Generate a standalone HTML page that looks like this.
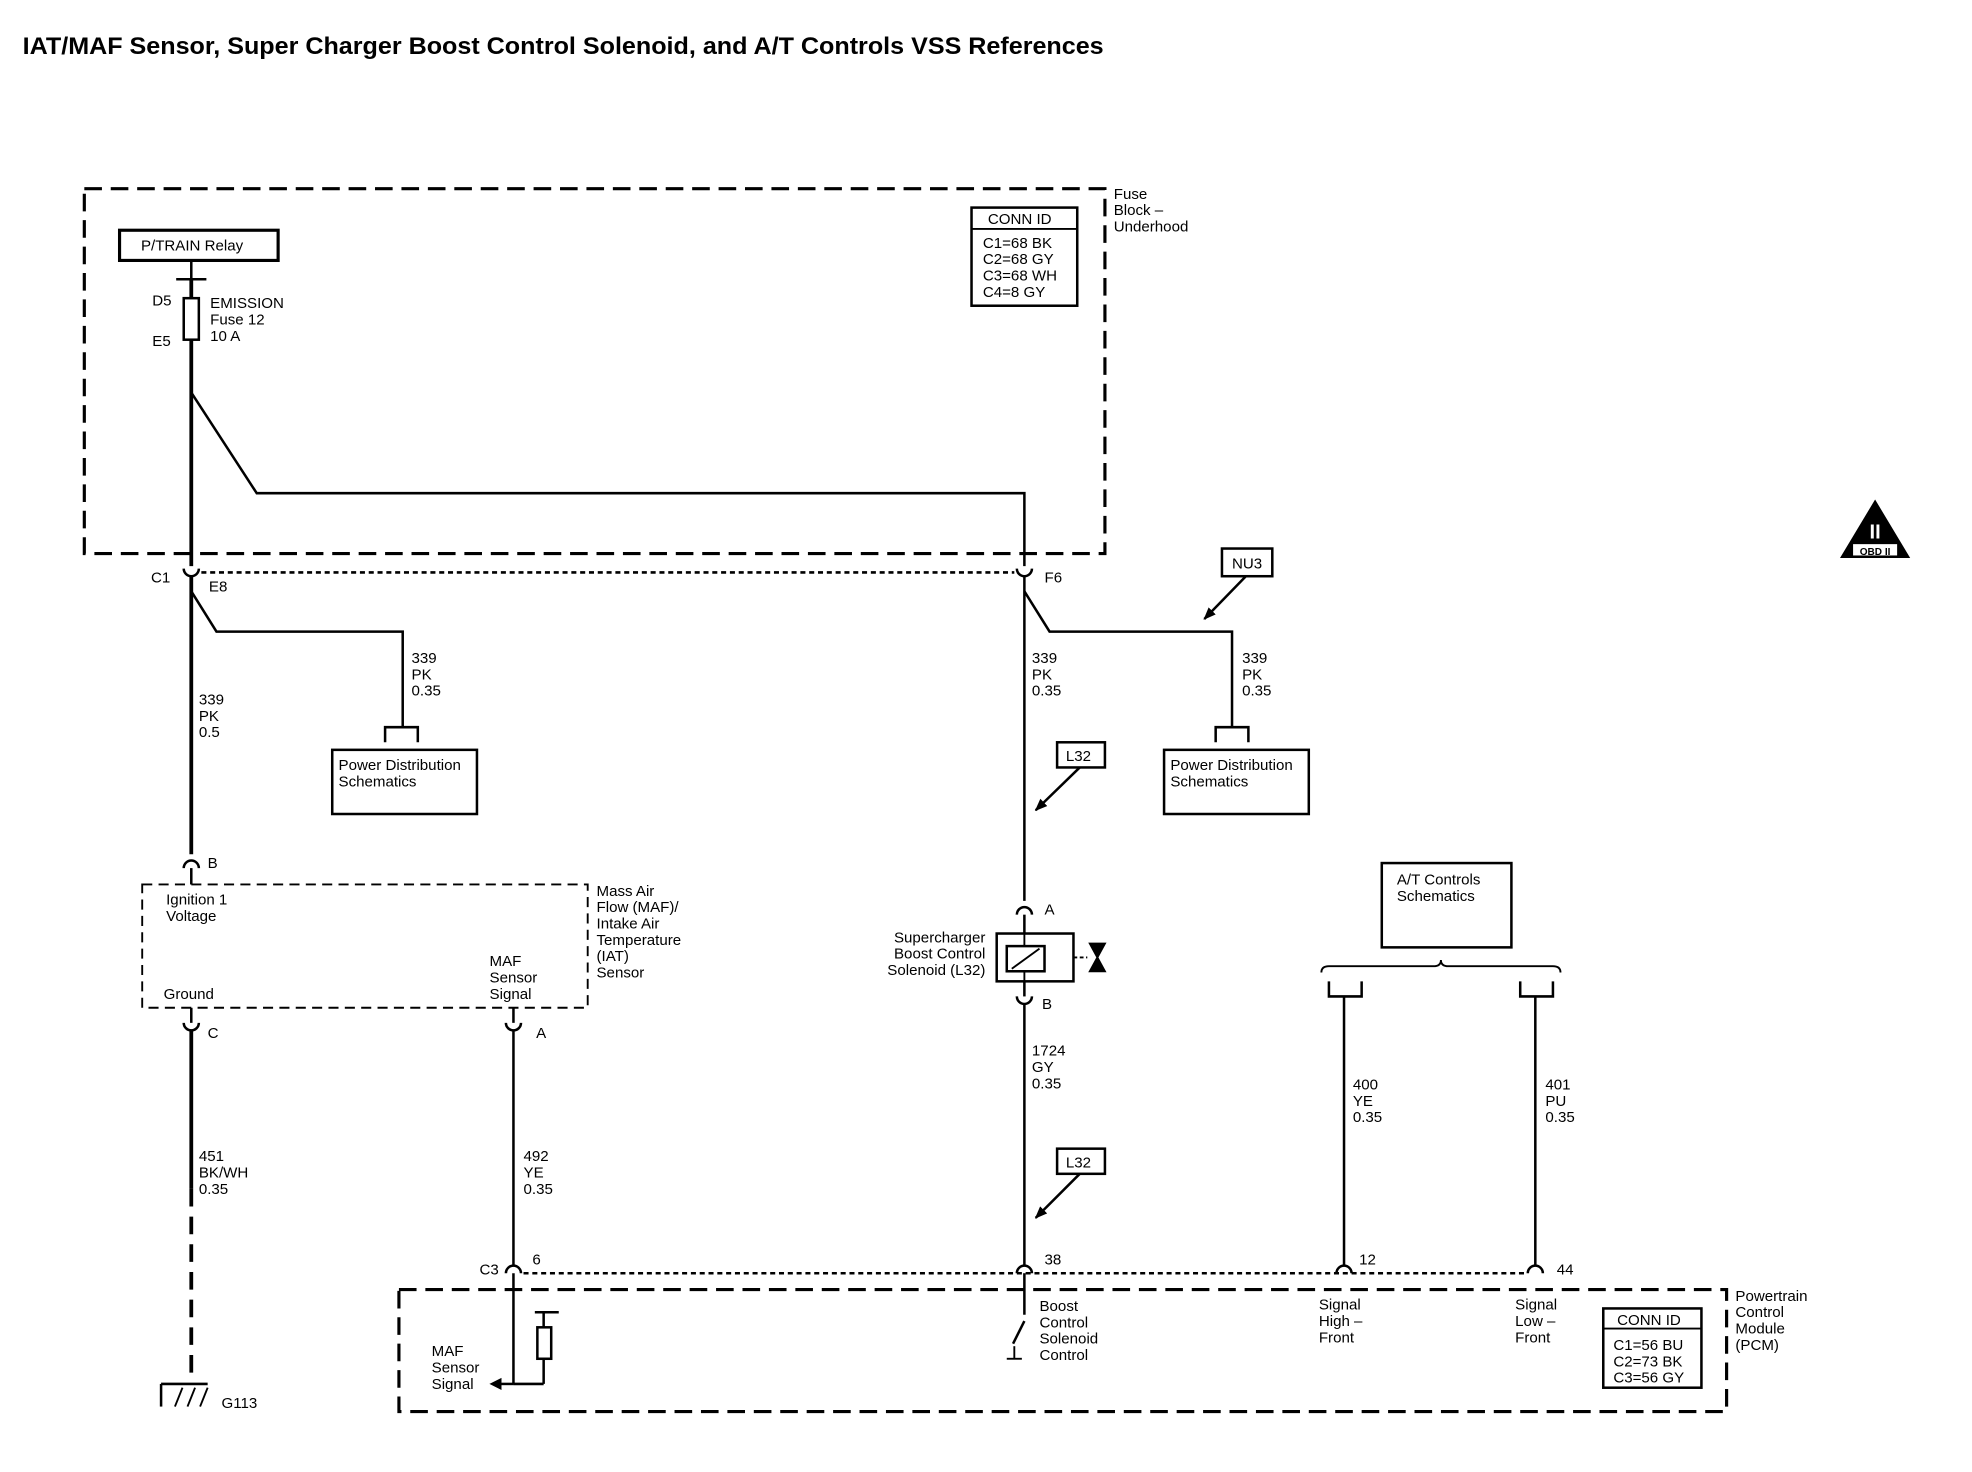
<!DOCTYPE html>
<html><head><meta charset="utf-8"><style>
html,body{margin:0;padding:0;background:#fff;}
svg{display:block;}
text{font-family:"Liberation Sans",Arial,sans-serif;font-size:12px;fill:#000;}
</style></head><body>
<svg width="1972" height="1472" viewBox="0 0 1567 1170" preserveAspectRatio="none" xmlns="http://www.w3.org/2000/svg">
<defs><marker id="ah" markerWidth="10" markerHeight="10" refX="9" refY="5" orient="auto" markerUnits="userSpaceOnUse"><path d="M0,1 L10,5 L0,9 Z" fill="#000"/></marker></defs>
<rect width="1567" height="1170" fill="#fff"/>
<text x="18" y="43" textLength="859" lengthAdjust="spacingAndGlyphs" style="font-size:19px;font-weight:bold">IAT/MAF Sensor, Super Charger Boost Control Solenoid, and A/T Controls VSS References</text>
<g fill="none" stroke="#000">
<rect x="67" y="150" width="811" height="290" stroke-width="2.5" stroke-dasharray="14,7"/>
<rect x="772" y="165" width="84" height="78" stroke-width="2"/>
<line x1="772" y1="182" x2="856" y2="182" stroke-width="1.5"/>
<rect x="95" y="183" width="126" height="24" stroke-width="2.5"/>
<line x1="152" y1="207" x2="152" y2="222" stroke-width="2"/>
<line x1="140" y1="222" x2="164" y2="222" stroke-width="2"/>
<line x1="152" y1="222" x2="152" y2="450" stroke-width="3"/>
<rect x="146" y="237" width="12" height="33" stroke-width="2" fill="#fff"/>
<polyline points="152,312 204,392 814,392 814,450" stroke-width="2"/>
<line x1="160" y1="455" x2="806" y2="455" stroke-width="2" stroke-dasharray="4,3"/>
<path d="M146,452 a6,6 0 0 0 12,0" stroke-width="2"/>
<path d="M808,452 a6,6 0 0 0 12,0" stroke-width="2"/>
<line x1="152" y1="458" x2="152" y2="679" stroke-width="3"/>
<polyline points="152,470 172,502 320,502 320,578" stroke-width="2"/>
<polyline points="306,590 306,578 332,578 332,590" stroke-width="2"/>
<rect x="264" y="596" width="115" height="51" stroke-width="2"/>
<line x1="814" y1="458" x2="814" y2="716" stroke-width="2"/>
<polyline points="814,470 834,502 979,502 979,578" stroke-width="2"/>
<polyline points="966,590 966,578 992,578 992,590" stroke-width="2"/>
<rect x="925" y="596" width="115" height="51" stroke-width="2"/>
<rect x="971" y="436" width="40" height="22" stroke-width="2"/>
<line x1="990" y1="458" x2="957" y2="492" stroke-width="2" marker-end="url(#ah)"/>
<rect x="840" y="590" width="38" height="20" stroke-width="2"/>
<line x1="858" y1="610" x2="823" y2="644" stroke-width="2" marker-end="url(#ah)"/>
<rect x="840" y="913" width="38" height="20" stroke-width="2"/>
<line x1="858" y1="933" x2="823" y2="968" stroke-width="2" marker-end="url(#ah)"/>
<path d="M146,690 a6,6 0 0 1 12,0" stroke-width="2"/>
<line x1="152" y1="690" x2="152" y2="703" stroke-width="2"/>
<rect x="113" y="703" width="354" height="98" stroke-width="1.5" stroke-dasharray="8,5"/>
<path d="M146,813 a6,6 0 0 0 12,0" stroke-width="2"/>
<line x1="152" y1="801" x2="152" y2="813" stroke-width="2"/>
<path d="M402,813 a6,6 0 0 0 12,0" stroke-width="2"/>
<line x1="408" y1="801" x2="408" y2="813" stroke-width="2"/>
<line x1="152" y1="819" x2="152" y2="945" stroke-width="3"/>
<line x1="152" y1="945" x2="152" y2="1098" stroke-width="3" stroke-dasharray="14,8"/>
<line x1="128" y1="1100" x2="165" y2="1100" stroke-width="2"/>
<line x1="128" y1="1100" x2="128" y2="1118" stroke-width="2"/>
<line x1="145" y1="1103" x2="139" y2="1118" stroke-width="1.5"/>
<line x1="155" y1="1103" x2="149" y2="1118" stroke-width="1.5"/>
<line x1="165" y1="1103" x2="159" y2="1118" stroke-width="1.5"/>
<line x1="408" y1="819" x2="408" y2="1006" stroke-width="2"/>
<path d="M808,727 a6,6 0 0 1 12,0" stroke-width="2"/>
<line x1="814" y1="727" x2="814" y2="742" stroke-width="2"/>
<rect x="792" y="742" width="61" height="38" stroke-width="2"/>
<line x1="814" y1="742" x2="814" y2="752" stroke-width="1.5"/>
<rect x="800" y="752" width="30" height="20" stroke-width="2"/>
<line x1="804" y1="770" x2="826" y2="754" stroke-width="1.5"/>
<line x1="814" y1="772" x2="814" y2="780" stroke-width="1.5"/>
<line x1="853" y1="761" x2="864" y2="761" stroke-width="1.5" stroke-dasharray="3,2"/>
<path d="M866,750 L878,750 L866,772 L878,772 Z" stroke-width="1.5" fill="#000"/>
<path d="M808,792 a6,6 0 0 0 12,0" stroke-width="2"/>
<line x1="814" y1="780" x2="814" y2="792" stroke-width="2"/>
<line x1="814" y1="798" x2="814" y2="1006" stroke-width="2"/>
<rect x="1098" y="686" width="103" height="67" stroke-width="2"/>
<path d="M1050,773 q0,-5 6,-5 L1139,768 q6,0 6,-5 q0,5 6,5 L1234,768 q6,0 6,5" stroke-width="1.5"/>
<polyline points="1056,780 1056,792 1082,792 1082,780" stroke-width="2"/>
<polyline points="1208,780 1208,792 1234,792 1234,780" stroke-width="2"/>
<line x1="1068" y1="792" x2="1068" y2="1006" stroke-width="2"/>
<line x1="1220" y1="792" x2="1220" y2="1006" stroke-width="2"/>
<line x1="416" y1="1012" x2="1212" y2="1012" stroke-width="2" stroke-dasharray="4,3"/>
<path d="M402,1012 a6,6 0 0 1 12,0" stroke-width="2"/>
<path d="M808,1012 a6,6 0 0 1 12,0" stroke-width="2"/>
<path d="M1062,1012 a6,6 0 0 1 12,0" stroke-width="2"/>
<path d="M1214,1012 a6,6 0 0 1 12,0" stroke-width="2"/>
<rect x="317" y="1025" width="1055" height="97" stroke-width="2.5" stroke-dasharray="14,7"/>
<rect x="1274" y="1040" width="78" height="63" stroke-width="2"/>
<line x1="1274" y1="1056" x2="1352" y2="1056" stroke-width="1.5"/>
<line x1="408" y1="1012" x2="408" y2="1100" stroke-width="2"/>
<line x1="408" y1="1100" x2="396" y2="1100" stroke-width="2"/>
<path d="M390,1100 l8,-4 l0,8 z" fill="#000" stroke-width="1"/>
<line x1="408" y1="1100" x2="432" y2="1100" stroke-width="2"/>
<line x1="432" y1="1043" x2="432" y2="1100" stroke-width="2"/>
<line x1="425" y1="1043" x2="444" y2="1043" stroke-width="2"/>
<rect x="427" y="1055" width="11" height="25" stroke-width="2" fill="#fff"/>
<line x1="814" y1="1012" x2="814" y2="1045" stroke-width="2"/>
<line x1="814" y1="1050" x2="805" y2="1068" stroke-width="2"/>
<line x1="806" y1="1070" x2="806" y2="1080" stroke-width="1.5"/>
<line x1="800" y1="1080" x2="812" y2="1080" stroke-width="1.5"/>
<path d="M1490,398 L1517,443 L1463,443 Z" fill="#000" stroke-width="1"/>
</g>
<rect x="1472" y="432" width="36" height="10" fill="#fff" stroke="#000"/>
<text x="1490" y="441" text-anchor="middle" style="font-size:8px;font-weight:bold">OBD II</text>
<text x="1490" y="428" text-anchor="middle" style="font-size:16px;font-weight:bold;fill:#fff">II</text>

<text x="885" y="158">Fuse</text><text x="885" y="171">Block –</text><text x="885" y="184">Underhood</text>
<text x="785" y="178">CONN ID</text>
<text x="781" y="197">C1=68 BK</text><text x="781" y="210">C2=68 GY</text><text x="781" y="223">C3=68 WH</text><text x="781" y="236">C4=8 GY</text>
<text x="112" y="199">P/TRAIN Relay</text>
<text x="121" y="243">D5</text><text x="121" y="275">E5</text>
<text x="167" y="245">EMISSION</text><text x="167" y="258">Fuse 12</text><text x="167" y="271">10 A</text>
<text x="120" y="463">C1</text><text x="166" y="470">E8</text><text x="830" y="463">F6</text>
<text x="158" y="560">339</text><text x="158" y="573">PK</text><text x="158" y="586">0.5</text>
<text x="327" y="527">339</text><text x="327" y="540">PK</text><text x="327" y="553">0.35</text>
<text x="820" y="527">339</text><text x="820" y="540">PK</text><text x="820" y="553">0.35</text>
<text x="987" y="527">339</text><text x="987" y="540">PK</text><text x="987" y="553">0.35</text>
<text x="269" y="612">Power Distribution</text><text x="269" y="625">Schematics</text>
<text x="930" y="612">Power Distribution</text><text x="930" y="625">Schematics</text>
<text x="979" y="452">NU3</text>
<text x="847" y="605">L32</text><text x="847" y="928">L32</text>
<text x="165" y="690">B</text>
<text x="132" y="719">Ignition 1</text><text x="132" y="732">Voltage</text>
<text x="130" y="794">Ground</text>
<text x="389" y="768">MAF</text><text x="389" y="781">Sensor</text><text x="389" y="794">Signal</text>
<text x="474" y="712">Mass Air</text><text x="474" y="725">Flow (MAF)/</text><text x="474" y="738">Intake Air</text><text x="474" y="751">Temperature</text><text x="474" y="764">(IAT)</text><text x="474" y="777">Sensor</text>
<text x="165" y="825">C</text><text x="426" y="825">A</text>
<text x="158" y="923">451</text><text x="158" y="936">BK/WH</text><text x="158" y="949">0.35</text>
<text x="416" y="923">492</text><text x="416" y="936">YE</text><text x="416" y="949">0.35</text>
<text x="830" y="727">A</text><text x="828" y="802">B</text>
<text x="783" y="749" text-anchor="end">Supercharger</text><text x="783" y="762" text-anchor="end">Boost Control</text><text x="783" y="775" text-anchor="end">Solenoid (L32)</text>
<text x="820" y="839">1724</text><text x="820" y="852">GY</text><text x="820" y="865">0.35</text>
<text x="1110" y="703">A/T Controls</text><text x="1110" y="716">Schematics</text>
<text x="1075" y="866">400</text><text x="1075" y="879">YE</text><text x="1075" y="892">0.35</text>
<text x="1228" y="866">401</text><text x="1228" y="879">PU</text><text x="1228" y="892">0.35</text>
<text x="381" y="1013">C3</text><text x="423" y="1005">6</text><text x="830" y="1005">38</text><text x="1080" y="1005">12</text><text x="1237" y="1013">44</text>
<text x="343" y="1078">MAF</text><text x="343" y="1091">Sensor</text><text x="343" y="1104">Signal</text>
<text x="826" y="1042">Boost</text><text x="826" y="1055">Control</text><text x="826" y="1068">Solenoid</text><text x="826" y="1081">Control</text>
<text x="1048" y="1041">Signal</text><text x="1048" y="1054">High –</text><text x="1048" y="1067">Front</text>
<text x="1204" y="1041">Signal</text><text x="1204" y="1054">Low –</text><text x="1204" y="1067">Front</text>
<text x="1379" y="1034">Powertrain</text><text x="1379" y="1047">Control</text><text x="1379" y="1060">Module</text><text x="1379" y="1073">(PCM)</text>
<text x="1285" y="1053">CONN ID</text>
<text x="1282" y="1073">C1=56 BU</text><text x="1282" y="1086">C2=73 BK</text><text x="1282" y="1099">C3=56 GY</text>
<text x="176" y="1119">G113</text>
</svg>
</body></html>
